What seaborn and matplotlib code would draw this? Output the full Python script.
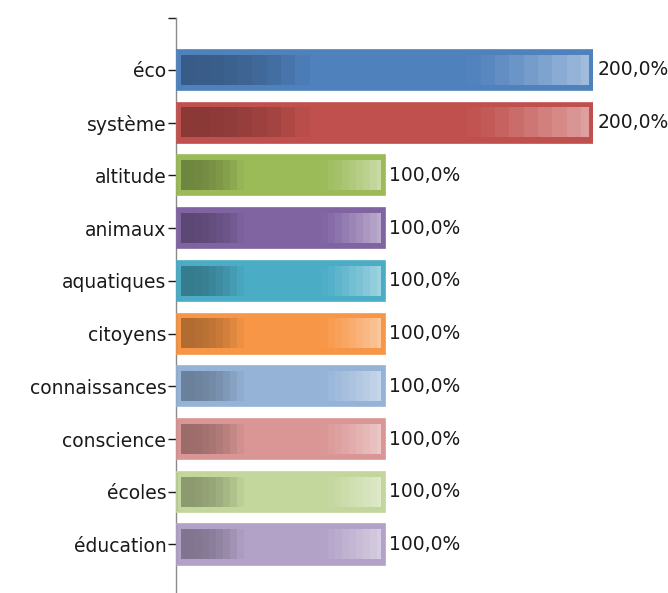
import numpy as np
import pandas as pd
import matplotlib
matplotlib.use("Agg")
import matplotlib.pyplot as plt
import matplotlib.colors as mcolors
import seaborn as sns

categories = ["éco", "système", "altitude", "animaux", "aquatiques", "citoyens",
              "connaissances", "conscience", "écoles", "éducation"]
values = [200.0, 200.0, 100.0, 100.0, 100.0, 100.0, 100.0, 100.0, 100.0, 100.0]
value_labels = ["200,0%", "200,0%", "100,0%", "100,0%", "100,0%", "100,0%",
                "100,0%", "100,0%", "100,0%", "100,0%"]
colors = ["#4F81BD", "#C0504D", "#9BBB59", "#8064A2", "#4BACC6", "#F79646",
          "#95B3D7", "#D99694", "#C3D69B", "#B3A2C7"]

sns.set_style("white")
plt.rcParams["font.family"] = ["DejaVu Sans"]

df = pd.DataFrame({"cat": categories, "val": values})

fig = plt.figure(figsize=(6.68, 5.93), dpi=100)
ax = fig.add_axes([176 / 668, 0.0, (593 - 176) / 668, 1 - 18 / 593])

sns.barplot(data=df, y="cat", x="val", hue="cat", palette=colors, legend=False,
            orient="h", width=0.76, ax=ax, saturation=1, edgecolor="none")


def grad_row(base, n=200):
    base = np.array(mcolors.to_rgb(base))
    dark = base * 0.72
    white = np.ones(3)
    row = np.zeros((n, 3))
    for i in range(n):
        t = i / (n - 1)
        tq = np.floor(t / 0.035) * 0.035
        if tq < 0.3:
            a = 1 - (tq / 0.3) ** 2
            c = base * (1 - a) + dark * a
        elif tq > 0.68:
            a = ((tq - 0.68) / 0.32) ** 1.2 * 0.5
            c = base * (1 - a) + white * a
        else:
            c = base
        row[i] = c
    return row


for p, col in zip(ax.patches, colors):
    x0, y0, w, h = p.get_x(), p.get_y(), p.get_width(), p.get_height()
    dx = 2.2
    dy = 0.1
    row = grad_row(col)
    img = np.tile(row[None, :, :], (8, 1, 1))
    ax.imshow(img, extent=(x0 + dx, x0 + w - dx, y0 + h - dy, y0 + dy),
              aspect="auto", interpolation="nearest", zorder=3)
    ax.add_patch(plt.Rectangle((x0, y0), w, h, fill=False,
                               edgecolor=mcolors.to_rgba(col), lw=1.2, zorder=4))

ax.set_xlim(0, 200)
ax.set_ylim(9.92, -0.985)

for i, (v, lab) in enumerate(zip(values, value_labels)):
    ax.text(v + 2.0, i, lab, va="center", ha="left", fontsize=13.5,
            color="#1a1a1a", clip_on=False)

ax.set_yticks([-0.985] + list(range(len(categories))))
ax.set_yticklabels([""] + categories, fontsize=13.5, color="#1a1a1a")
ax.tick_params(axis="y", length=6, width=1, color="#1a1a1a", pad=1, left=True)
ax.set_xticks([])
ax.set_xlabel("")
ax.set_ylabel("")
for s in ["top", "right", "bottom"]:
    ax.spines[s].set_visible(False)
ax.spines["left"].set_color("#8a8a8a")
ax.spines["left"].set_linewidth(1)

fig.savefig("out.png", dpi=100)
